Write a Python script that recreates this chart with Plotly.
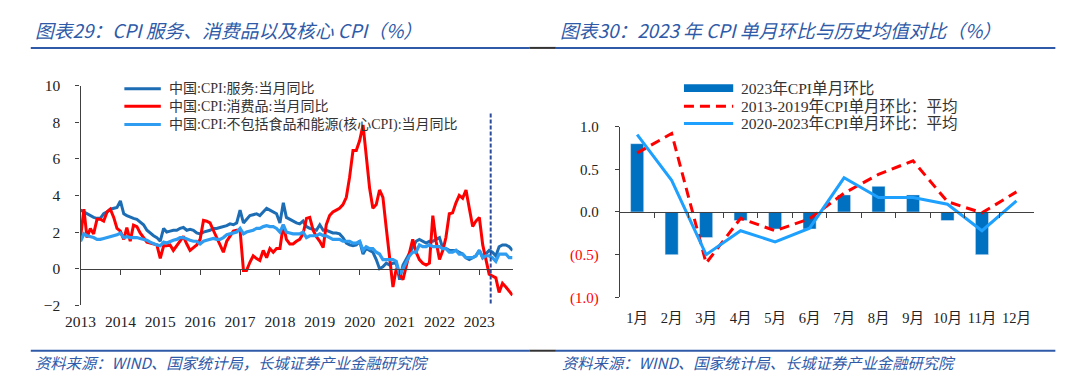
import pandas as pd
import plotly.graph_objects as go

W, H = 1080, 389

# ---------------- Left chart data (monthly, 2013-01 .. 2023-11) ----------------
months_left = pd.date_range("2013-01-01", periods=131, freq="MS")

services = [
    3.2, 3.1, 3.0, 2.9, 2.8, 2.75, 2.75, 3.0, 3.1, 3.25, 3.3, 3.35,      # 2013
    3.7, 3.0, 2.9, 2.8, 2.75, 2.7, 2.55, 2.4, 2.1, 1.95, 1.8, 1.7,       # 2014
    1.5, 2.2, 2.0, 2.05, 2.1, 2.1, 2.2, 2.25, 2.1, 2.15, 2.1, 1.95,      # 2015
    1.9, 2.0, 2.05, 2.1, 2.2, 2.2, 2.25, 2.3, 2.35, 2.45, 2.4, 2.5,      # 2016
    3.2, 2.5, 2.7, 2.9, 2.95, 3.0, 2.9, 3.1, 3.3, 3.2, 3.1, 3.0,         # 2017
    2.5, 3.6, 2.8, 2.7, 2.6, 2.5, 2.45, 2.6, 2.3, 2.2, 2.15, 2.1,        # 2018
    2.4, 2.1, 2.1, 2.0, 1.95, 1.95, 1.9, 1.7, 1.4, 1.3, 1.25, 1.3,       # 2019
    1.5, 0.8, 1.1, 1.0, 0.9, 0.5, 0.0, 0.1, 0.3, 0.2, 0.3, 0.3,          # 2020
    -0.6, 0.2, 0.5, 0.9, 1.2, 1.5, 1.6, 1.5, 1.4, 1.5, 1.5, 1.6,         # 2021
    1.7, 1.1, 1.1, 1.0, 1.0, 1.0, 0.9, 0.8, 0.6, 0.5, 0.6, 0.7,          # 2022
    1.0, 0.6, 0.8, 1.0, 0.9, 0.7, 1.2, 1.3, 1.3, 1.2, 1.0,               # 2023
]
goods = [
    1.7, 3.25, 1.7, 2.2, 1.9, 2.7, 2.7, 2.6, 3.1, 3.25, 2.8, 2.2,        # 2013
    2.05, 1.6, 2.24, 1.5, 2.38, 2.3, 1.95, 1.7, 1.45, 1.4, 1.35, 1.3,    # 2014
    0.56, 1.25, 1.25, 1.3, 1.0, 1.25, 1.5, 1.77, 1.35, 1.0, 1.15, 1.3,   # 2015
    1.6, 2.64, 2.6, 2.5, 2.1, 1.7, 1.3, 0.9, 1.5, 1.8, 2.05, 2.1,        # 2016
    2.1, -0.1, -0.1, 0.35, 0.7, 0.55, 0.45, 1.0, 0.6, 1.1, 0.9, 1.1,     # 2017
    1.1, 2.4, 1.6, 1.35, 1.35, 1.5, 1.6, 1.9, 2.75, 2.8, 2.1, 1.75,      # 2018
    1.5, 1.15, 2.4, 2.9, 3.1, 3.2, 3.3, 3.5, 3.9, 5.0, 6.45, 6.45,       # 2019
    7.0, 7.85, 6.0, 4.4, 3.3, 3.5, 4.3, 3.9, 2.2, 0.5, -1.0, 0.0,        # 2020
    -0.3, -0.6, 0.1, 0.8, 1.6, 0.9, 0.5, 0.3, 0.2, 0.3, 2.9, 1.5,        # 2021
    0.5, 1.0, 1.7, 3.0, 3.05, 3.6, 4.0, 3.85, 4.3, 3.3, 2.3, 2.6,        # 2022
    2.8, 1.3, 0.6, -0.3, -0.4, -0.5, -1.3, -0.8, -1.0, -1.2, -1.45,      # 2023
]
core = [
    1.5, 1.9, 1.8, 1.75, 1.7, 1.6, 1.6, 1.65, 1.7, 1.75, 1.8, 1.85,      # 2013
    1.95, 1.7, 1.75, 1.7, 1.7, 1.7, 1.65, 1.6, 1.55, 1.45, 1.35, 1.3,    # 2014
    1.25, 1.45, 1.4, 1.5, 1.55, 1.6, 1.7, 1.7, 1.6, 1.55, 1.5, 1.5,      # 2015
    1.35, 1.5, 1.55, 1.6, 1.65, 1.6, 1.6, 1.7, 1.85, 1.9, 1.95, 2.0,     # 2016
    2.2, 1.9, 2.0, 2.05, 2.1, 2.2, 2.2, 2.3, 2.35, 2.3, 2.3, 2.2,        # 2017
    2.0, 2.4, 2.0, 1.95, 1.9, 1.9, 1.9, 2.0, 1.7, 1.8, 1.8, 1.8,         # 2018
    1.9, 1.8, 1.8, 1.7, 1.6, 1.6, 1.6, 1.5, 1.5, 1.5, 1.4, 1.4,          # 2019
    1.5, 1.0, 1.2, 1.1, 1.1, 0.9, 0.8, 0.5, 0.5, 0.5, 0.5, 0.4,          # 2020
    -0.3, 0.0, 0.3, 0.7, 0.9, 0.9, 1.3, 1.2, 1.2, 1.3, 1.2, 1.2,         # 2021
    1.2, 1.1, 1.1, 0.9, 0.9, 1.0, 0.8, 0.8, 0.6, 0.6, 0.6, 0.7,          # 2022
    1.0, 0.6, 0.7, 0.7, 0.6, 0.4, 0.8, 0.8, 0.8, 0.6, 0.6,               # 2023
]
left_names = ["中国:CPI:服务:当月同比", "中国:CPI:消费品:当月同比",
              "中国:CPI:不包括食品和能源(核心CPI):当月同比"]
marker_date = "2023-04-15"
marker_span = [-1.9, 8.5]
left_yticks = [-2, 0, 2, 4, 6, 8, 10]

# ---------------- Right chart data ----------------
month_labels = ["1月", "2月", "3月", "4月", "5月", "6月",
                "7月", "8月", "9月", "10月", "11月", "12月"]
mom_2023 = [0.8, -0.5, -0.3, -0.1, -0.2, -0.2, 0.2, 0.3, 0.2, -0.1, -0.5, None]
avg_2013_2019 = [0.69, 0.92, -0.6, -0.075, -0.22, -0.08, 0.22, 0.44, 0.6, 0.12, -0.01, 0.235]
avg_2020_2023 = [0.905, 0.37, -0.5, -0.22, -0.35, -0.19, 0.4, 0.17, 0.17, 0.09, -0.22, 0.13]
right_names = ["2023年CPI单月环比", "2013-2019年CPI单月环比：平均", "2020-2023年CPI单月环比：平均"]
right_yticks = [-1.0, -0.5, 0.0, 0.5, 1.0]
right_yticktext = ["<span style='color:#FF0000'>(1.0)</span>",
                   "<span style='color:#FF0000'>(0.5)</span>",
                   "0.0", "0.5", "1.0"]

# ---------------- styling ----------------
C_SERV = "#1D6DB5"
C_GOODS = "#FF0000"
C_CORE = "#2E9CF0"
C_BAR = "#0070C0"
C_AVG2 = "#1EA0FF"
C_TITLE = "#2E5AA8"
C_AXIS = "#404040"
SERIF = "Liberation Serif, Noto Sans CJK SC, serif"
CJK = "Noto Sans CJK SC, sans-serif"


def px(x):
    return x / W


def py(y):
    return 1 - y / H


# plot areas in pixels
L_X0, L_X1, L_YT, L_YB = 65.5, 504.0, 80.3, 310.7
R_X0, R_X1, R_YT, R_YB = 613.0, 1033.0, 123.3, 302.3

l_dom_x = [px(L_X0), px(L_X1)]
l_dom_y = [py(L_YB), py(L_YT)]
r_dom_x = [px(R_X0), px(R_X1)]
r_dom_y = [py(R_YB), py(R_YT)]
l_zero = l_dom_y[0] + (0 - left_yticks[0]) / (left_yticks[-1] - left_yticks[0]) * (l_dom_y[1] - l_dom_y[0])
r_zero = r_dom_y[0] + (0 - right_yticks[0]) / (right_yticks[-1] - right_yticks[0]) * (r_dom_y[1] - r_dom_y[0])

fig = go.Figure()

# left chart traces
fig.add_trace(go.Scatter(x=months_left, y=services, mode="lines", name=left_names[0],
                         line=dict(color=C_SERV, width=3), xaxis="x", yaxis="y"))
fig.add_trace(go.Scatter(x=months_left, y=goods, mode="lines", name=left_names[1],
                         line=dict(color=C_GOODS, width=3), xaxis="x3", yaxis="y"))
fig.add_trace(go.Scatter(x=months_left, y=core, mode="lines", name=left_names[2],
                         line=dict(color=C_CORE, width=3.2), xaxis="x3", yaxis="y"))

# right chart traces
fig.add_trace(go.Bar(x=month_labels, y=mom_2023, name=right_names[0], marker_color=C_BAR,
                     width=0.38, xaxis="x2", yaxis="y2"))
fig.add_trace(go.Scatter(x=month_labels, y=avg_2013_2019, mode="lines", name=right_names[1],
                         line=dict(color=C_GOODS, width=3, dash="10px,6px"), xaxis="x4", yaxis="y2"))
fig.add_trace(go.Scatter(x=month_labels, y=avg_2020_2023, mode="lines", name=right_names[2],
                         line=dict(color=C_AVG2, width=3), xaxis="x4", yaxis="y2"))

x_range_left = [months_left[0], months_left[-1]]


def tf(size):
    return dict(family=SERIF, size=size, color="#222222")


axis_common = dict(showgrid=False, zeroline=False, linecolor=C_AXIS, tickcolor=C_AXIS)

fig.update_layout(
    width=W, height=H, margin=dict(l=0, r=0, t=0, b=0),
    paper_bgcolor="white", plot_bgcolor="rgba(0,0,0,0)",
    showlegend=False, hovermode=False,
    xaxis=dict(domain=l_dom_x, anchor="y", type="date", range=x_range_left,
               tick0="2013-01-01", dtick="M12", tickformat="%Y", ticks="",
               showline=False, ticklabelstandoff=5, tickfont=tf(15.5), **axis_common),
    xaxis3=dict(domain=l_dom_x, overlaying="x", anchor="free", position=l_zero, type="date",
                range=x_range_left, tick0="2013-01-01", dtick="M12", ticks="outside", ticklen=5,
                showline=True, linewidth=1.2, showticklabels=False, **axis_common),
    yaxis=dict(domain=l_dom_y, anchor="x", range=[left_yticks[0], left_yticks[-1]],
               tickvals=left_yticks, ticks="outside", ticklen=4, showline=True, linewidth=1.2,
               ticklabelstandoff=12, tickfont=tf(15.5), **axis_common),
    xaxis2=dict(domain=r_dom_x, anchor="y2", type="category", categoryarray=month_labels,
                range=[-0.5, len(month_labels) - 0.5], ticks="", showline=False,
                ticklabelstandoff=10, tickfont=tf(14.5), **axis_common),
    xaxis4=dict(domain=r_dom_x, overlaying="x2", anchor="free", position=r_zero, type="category",
                categoryarray=month_labels, range=[-0.5, len(month_labels) - 0.5],
                ticks="outside", tickson="boundaries", ticklen=5, showline=True, linewidth=1.2,
                showticklabels=False, **axis_common),
    yaxis2=dict(domain=r_dom_y, anchor="x2", range=[right_yticks[0], right_yticks[-1]],
                tickvals=right_yticks, ticktext=right_yticktext, ticks="outside", ticklen=4,
                showline=True, linewidth=1.2, ticklabelstandoff=13, tickfont=tf(15), **axis_common),
    bargap=0.6,
)

# vertical dashed marker line on left chart
fig.add_shape(type="line", xref="x", yref="y", x0=marker_date, x1=marker_date,
              y0=marker_span[0], y1=marker_span[1],
              line=dict(color="#2B4C9B", width=2, dash="4px,2px"))

shapes = []
annos = []

# titles
title_font = dict(family=CJK, size=18.8, color=C_TITLE, style="italic")
annos.append(dict(text="图表29：CPI 服务、消费品以及核心 CPI（%）", x=px(17), y=py(22),
                  xanchor="left", yanchor="middle", font=title_font))
annos.append(dict(text="图表30：2023 年 CPI 单月环比与历史均值对比（%）", x=px(550), y=py(22),
                  xanchor="left", yanchor="middle", font=title_font))

# footers
foot_font = dict(family=CJK, size=15.3, color=C_TITLE, style="italic")
annos.append(dict(text="资料来源：WIND、国家统计局，长城证券产业金融研究院", x=px(17), y=py(370),
                  xanchor="left", yanchor="middle", font=foot_font))
annos.append(dict(text="资料来源：WIND、国家统计局、长城证券产业金融研究院", x=px(552), y=py(370),
                  xanchor="left", yanchor="middle", font=foot_font))

# rules under titles and above footers
for yy in (40.8, 358.3):
    shapes.append(dict(type="line", xref="paper", yref="paper", x0=px(15), x1=px(521),
                       y0=py(yy), y1=py(yy), line=dict(color="#2E5AA8", width=2)))
    shapes.append(dict(type="line", xref="paper", yref="paper", x0=px(521), x1=px(548),
                       y0=py(yy), y1=py(yy), line=dict(color="#333333", width=2)))
    shapes.append(dict(type="line", xref="paper", yref="paper", x0=px(548), x1=px(1055),
                       y0=py(yy), y1=py(yy), line=dict(color="#2E5AA8", width=2)))

# custom legend - left
left_leg_y = [83.5, 102, 121]
left_leg_col = [C_SERV, C_GOODS, C_CORE]
for name, col, yy in zip(left_names, left_leg_col, left_leg_y):
    shapes.append(dict(type="line", xref="paper", yref="paper", x0=px(110), x1=px(147),
                       y0=py(yy), y1=py(yy), line=dict(color=col, width=3)))
    annos.append(dict(text=name, x=px(153), y=py(yy), xanchor="left", yanchor="middle",
                      font=dict(family=SERIF, size=14, color="#333333")))

# custom legend - right
right_leg_y = [83, 102, 120]
shapes.append(dict(type="rect", xref="paper", yref="paper", x0=px(678), x1=px(728),
                   y0=py(right_leg_y[0] + 4), y1=py(right_leg_y[0] - 4),
                   fillcolor=C_BAR, line=dict(width=0)))
shapes.append(dict(type="line", xref="paper", yref="paper", x0=px(678), x1=px(728),
                   y0=py(right_leg_y[1]), y1=py(right_leg_y[1]),
                   line=dict(color=C_GOODS, width=3, dash="10px,6px")))
shapes.append(dict(type="line", xref="paper", yref="paper", x0=px(678), x1=px(728),
                   y0=py(right_leg_y[2]), y1=py(right_leg_y[2]),
                   line=dict(color=C_AVG2, width=3)))
for name, yy in zip(right_names, right_leg_y):
    annos.append(dict(text=name, x=px(734), y=py(yy), xanchor="left", yanchor="middle",
                      font=dict(family=SERIF, size=15.6, color="#333333")))

for s in shapes:
    fig.add_shape(**s)
for a in annos:
    fig.add_annotation(showarrow=False, xref="paper", yref="paper", **a)

fig.write_html("out.html", config={"displayModeBar": False},
               post_script="document.body.style.margin='0';document.body.style.overflow='hidden';")
